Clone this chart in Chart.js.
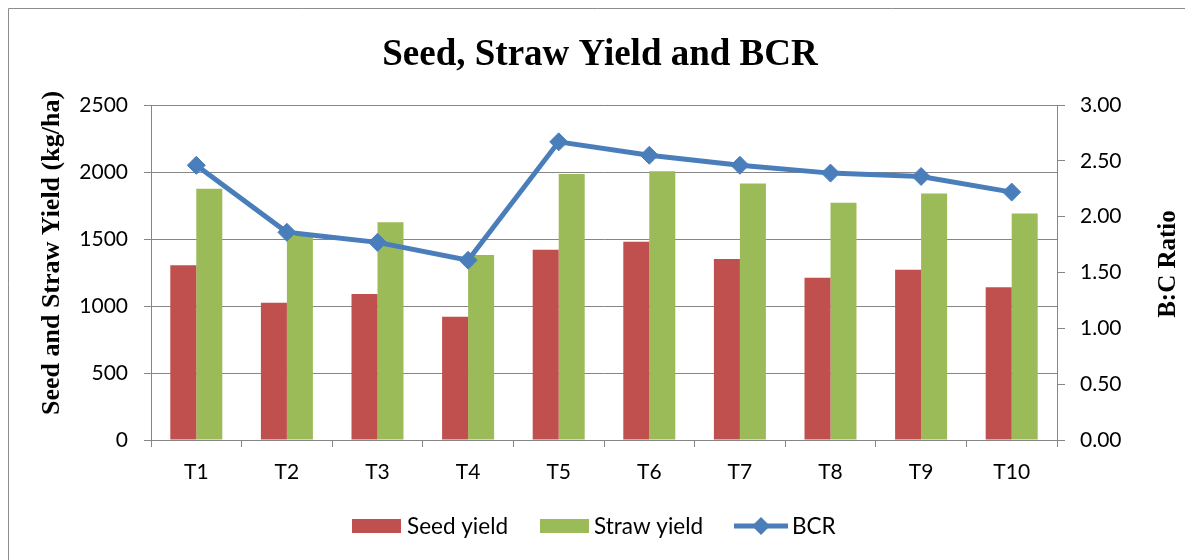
<!DOCTYPE html>
<html>
<head>
<meta charset="utf-8">
<script src="https://cdn.jsdelivr.net/npm/chart.js@4"></script>
<style>
  body { margin: 0; background: #fff; }
</style>
</head>
<body>
<canvas id="chart" width="1185" height="560"></canvas>
<script>
const categories = ['T1', 'T2', 'T3', 'T4', 'T5', 'T6', 'T7', 'T8', 'T9', 'T10']
const seedYield = [1305, 1025, 1090, 920, 1420, 1480, 1350, 1210, 1270, 1140]
const strawYield = [1875, 1525, 1625, 1380, 1985, 2005, 1915, 1770, 1840, 1690]
const bcr = [2.46, 1.86, 1.77, 1.61, 2.67, 2.55, 2.46, 2.39, 2.36, 2.22]

const chartTitle = 'Seed, Straw Yield and BCR'
const leftTitle = 'Seed and Straw Yield (kg/ha)'
const rightTitle = 'B:C Ratio'

const gridGray = '#868686'
const tickFont = { family: 'Lato, "Open Sans", sans-serif', size: 21 }

// title, axis titles, border and legend drawn by hand
const decor = {
  id: 'decor',
  beforeDraw(chart) {
    const ctx = chart.ctx
    ctx.save()
    ctx.strokeStyle = '#8c8c8c'
    ctx.lineWidth = 1
    ctx.beginPath()
    ctx.moveTo(8.5, 600)
    ctx.lineTo(8.5, 8.5)
    ctx.lineTo(1200, 8.5)
    ctx.stroke()
    ctx.restore()
  },
  afterDraw(chart) {
    const ctx = chart.ctx
    const ds = chart.data.datasets
    ctx.save()
    ctx.fillStyle = '#000'
    ctx.textAlign = 'center'
    ctx.textBaseline = 'alphabetic'
    ctx.font = 'bold 37px "Liberation Serif", serif'
    ctx.fillText(chartTitle, 600, 65)

    ctx.font = 'bold 26px "Liberation Serif", serif'
    ctx.textBaseline = 'middle'
    ctx.save()
    ctx.translate(52, 253)
    ctx.rotate(-Math.PI / 2)
    ctx.fillText(leftTitle, 0, 0)
    ctx.restore()
    ctx.font = 'bold 25px "Liberation Serif", serif'
    ctx.save()
    ctx.translate(1169, 264)
    ctx.rotate(-Math.PI / 2)
    ctx.fillText(rightTitle, 0, 0)
    ctx.restore()

    // legend
    const ly = 526
    ctx.font = '22.5px Lato, "Open Sans", sans-serif'
    ctx.textAlign = 'left'
    ctx.fillStyle = ds[0].backgroundColor
    ctx.fillRect(352, ly - 7, 49, 14)
    ctx.fillStyle = ds[1].backgroundColor
    ctx.fillRect(540, ly - 7, 49, 14)
    ctx.strokeStyle = ds[2].borderColor
    ctx.lineWidth = 5
    ctx.beginPath()
    ctx.moveTo(734, ly)
    ctx.lineTo(788, ly)
    ctx.stroke()
    ctx.fillStyle = ds[2].borderColor
    ctx.beginPath()
    ctx.moveTo(761, ly - 9)
    ctx.lineTo(770, ly)
    ctx.lineTo(761, ly + 9)
    ctx.lineTo(752, ly)
    ctx.closePath()
    ctx.fill()
    ctx.fillStyle = '#000'
    ctx.fillText(ds[0].label, 407, ly + 1)
    ctx.fillText(ds[1].label, 594, ly + 1)
    ctx.fillText(ds[2].label, 792, ly + 1)
    ctx.restore()
  }
}

const data = {
  labels: categories,
  datasets: [
    {
      type: 'bar',
      label: 'Seed yield',
      data: seedYield,
      backgroundColor: '#C0504D',
      yAxisID: 'y',
      order: 1,
      barPercentage: 1,
      categoryPercentage: 0.574
    },
    {
      type: 'bar',
      label: 'Straw yield',
      data: strawYield,
      backgroundColor: '#9BBB59',
      yAxisID: 'y',
      order: 1,
      barPercentage: 1,
      categoryPercentage: 0.574
    },
    {
      type: 'line',
      label: 'BCR',
      data: bcr,
      borderColor: '#4A7EBB',
      backgroundColor: '#4A7EBB',
      pointBackgroundColor: '#4A7EBB',
      pointBorderColor: '#4A7EBB',
      borderWidth: 5,
      pointStyle: 'rectRot',
      pointRadius: 9,
      pointBorderWidth: 1,
      yAxisID: 'y1',
      order: 0,
      tension: 0
    }
  ]
}

const config = {
  type: 'bar',
  data: data,
  plugins: [decor],
  options: {
    responsive: false,
    animation: false,
    layout: { padding: { top: 105, left: 0, right: 0, bottom: 0 } },
    plugins: {
      legend: { display: false },
      title: { display: false },
      tooltip: { enabled: false }
    },
    scales: {
      x: {
        offset: true,
        afterFit: (s) => { s.height = 120 },
        grid: { offset: true, drawOnChartArea: false, drawTicks: true, tickLength: 7, color: gridGray },
        border: { display: true, color: gridGray, width: 1 },
        ticks: { color: '#000', font: tickFont, padding: 13 }
      },
      y: {
        position: 'left',
        min: 0,
        max: 2500,
        afterFit: (s) => { s.width = 151 },
        grid: { color: gridGray, lineWidth: 1, tickLength: 7 },
        border: { display: true, color: gridGray, width: 1 },
        ticks: { stepSize: 500, color: '#000', font: tickFont, padding: 16, callback: (v) => String(v) }
      },
      y1: {
        position: 'right',
        min: 0,
        max: 3,
        afterFit: (s) => { s.width = 128 },
        grid: { drawOnChartArea: false, color: gridGray, tickLength: 8 },
        border: { display: true, color: gridGray, width: 1 },
        ticks: {
          stepSize: 0.5,
          color: '#000',
          font: tickFont,
          padding: 15,
          callback: (v) => Number(v).toFixed(2)
        }
      }
    }
  }
}

const myChart = new Chart(document.getElementById('chart'), config)
</script>
</body>
</html>
